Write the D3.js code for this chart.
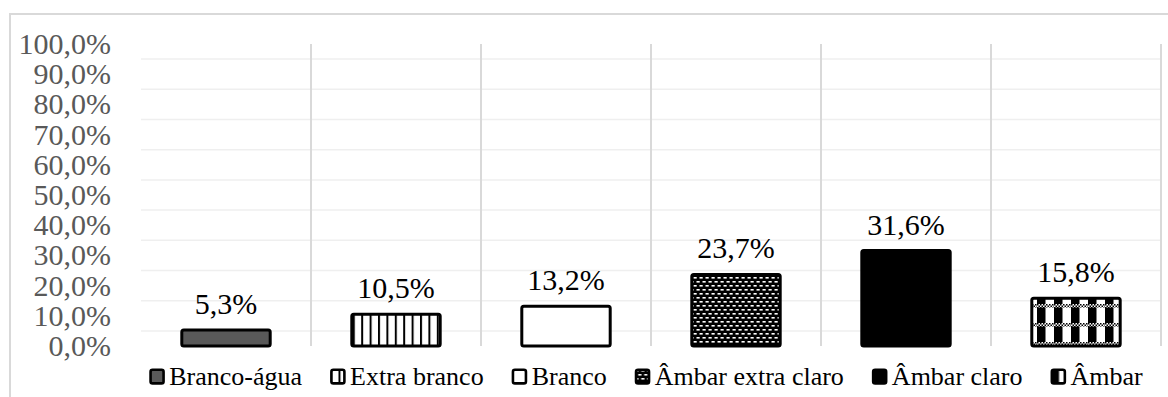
<!DOCTYPE html>
<html>
<head>
<meta charset="utf-8">
<script src="https://cdn.jsdelivr.net/npm/d3@7"></script>
<style>
  body { margin: 0; background: #fff; font-family: "Times New Roman"; }
  svg { font-family: "Times New Roman"; }
</style>
</head>
<body>
<div id="chart"></div>
<script>
const categories = ["Branco-água", "Extra branco", "Branco", "Âmbar extra claro", "Âmbar claro", "Âmbar"];
const values = [5.3, 10.5, 13.2, 23.7, 31.6, 15.8];
const yTicks = [0, 10, 20, 30, 40, 50, 60, 70, 80, 90, 100];
const gridLines = [5, 15, 25, 35, 45, 55, 65, 75, 85, 95];

const fills = ["#595959", "url(#p-vert)", "#ffffff", "url(#p-brick)", "#000000", "url(#p-check)"];

const width = 1168, height = 397;
const plot = { left: 141, right: 1161, top: 44, bottom: 346 };

const fmt = v => d3.format(".1f")(v).replace(".", ",") + "%";

const svg = d3.select("#chart")
    .append("svg")
    .attr("width", width)
    .attr("height", height)
    .attr("font-family", "Times New Roman");

// 填充图案
const defs = svg.append("defs");

const pv = defs.append("pattern").attr("id", "p-vert")
    .attr("patternUnits", "userSpaceOnUse")
    .attr("width", 8.4).attr("height", 10);
pv.append("rect").attr("width", 8.4).attr("height", 10).attr("fill", "#fff");
pv.append("rect").attr("width", 2).attr("height", 10).attr("fill", "#000");

const pb = defs.append("pattern").attr("id", "p-brick")
    .attr("patternUnits", "userSpaceOnUse")
    .attr("width", 6).attr("height", 8);
pb.append("rect").attr("width", 6).attr("height", 8).attr("fill", "#000");
[[0.5, 1], [3.5, 5], [-2.5, 5]].forEach(([x, y]) => {
    pb.append("rect").attr("x", x).attr("y", y)
        .attr("width", 3.2).attr("height", 1.6).attr("fill", "#fff");
});

const pd = defs.append("pattern").attr("id", "p-dots")
    .attr("patternUnits", "userSpaceOnUse")
    .attr("width", 3).attr("height", 3);
pd.append("rect").attr("width", 3).attr("height", 3).attr("fill", "#fff");
pd.append("rect").attr("width", 1.5).attr("height", 1.5).attr("fill", "#000");
pd.append("rect").attr("x", 1.5).attr("y", 1.5).attr("width", 1.5).attr("height", 1.5).attr("fill", "#000");

const pc = defs.append("pattern").attr("id", "p-check")
    .attr("patternUnits", "userSpaceOnUse")
    .attr("width", 17).attr("height", 19);
pc.append("rect").attr("width", 17).attr("height", 19).attr("fill", "#fff");
pc.append("rect").attr("width", 8.5).attr("height", 19).attr("fill", "#000");
pc.append("rect").attr("y", 0).attr("width", 17).attr("height", 3.5).attr("fill", "url(#p-dots)");

// 外框
svg.append("rect")
    .attr("x", 10).attr("y", 14)
    .attr("width", width + 20).attr("height", height + 20)
    .attr("fill", "none")
    .attr("stroke", "#d9d9d9")
    .attr("stroke-width", 2);

const xScale = d3.scaleBand()
    .domain(categories)
    .range([plot.left, plot.right])
    .paddingInner(0.48)
    .paddingOuter(0.24);

const yScale = d3.scaleLinear()
    .domain([0, 100])
    .range([plot.bottom, plot.top]);

const step = xScale.step();

// 横向网格线
svg.append("g")
    .selectAll("line")
    .data(gridLines)
    .enter()
    .append("line")
    .attr("x1", plot.left).attr("x2", plot.right)
    .attr("y1", d => yScale(d)).attr("y2", d => yScale(d))
    .attr("stroke", "#efefef")
    .attr("stroke-width", 1.5);

// 纵向分隔线
svg.append("g")
    .selectAll("line")
    .data(categories)
    .enter()
    .append("line")
    .attr("x1", d => xScale(d) - step * xScale.paddingInner() / 2 + step)
    .attr("x2", d => xScale(d) - step * xScale.paddingInner() / 2 + step)
    .attr("y1", plot.top).attr("y2", plot.bottom)
    .attr("stroke", "#d9d9d9")
    .attr("stroke-width", 2);

// y轴标签
svg.selectAll("text.ytick")
    .data(yTicks)
    .enter()
    .append("text")
    .attr("class", "ytick")
    .attr("x", 111)
    .attr("y", d => yScale(d) + 10)
    .attr("text-anchor", "end")
    .attr("fill", "#595959")
    .style("font-family", d => "'Times New Roman'")
    .style("font-size", "30px")
    .text(d => fmt(d));

// 柱子
svg.append("g")
    .selectAll("rect")
    .data(values)
    .enter()
    .append("rect")
    .attr("x", (d, i) => xScale(categories[i]))
    .attr("y", d => yScale(d))
    .attr("width", xScale.bandwidth())
    .attr("height", d => yScale(0) - yScale(d))
    .attr("rx", 2)
    .attr("fill", (d, i) => fills[i])
    .attr("stroke", "#000")
    .attr("stroke-width", 3);

// 数值标签
svg.selectAll("text.val")
    .data(values)
    .enter()
    .append("text")
    .attr("class", "val")
    .attr("x", (d, i) => xScale(categories[i]) + xScale.bandwidth() / 2)
    .attr("y", d => yScale(d) - 16)
    .attr("text-anchor", "middle")
    .attr("fill", "#000")
    .style("font-family", d => "'Times New Roman'")
    .style("font-size", "30px")
    .text(d => fmt(d));

// 图例
const legend = svg.append("g");
const items = legend.selectAll("g")
    .data(categories)
    .enter()
    .append("g")
    .attr("transform", (d, i) => `translate(${145 + i * 170},385)`);

items.append("rect")
    .attr("x", 1.3).attr("y", -15.2)
    .attr("width", 13).attr("height", 13.6)
    .attr("rx", 2)
    .attr("fill", (d, i) => fills[i])
    .attr("stroke", "#000")
    .attr("stroke-width", 2.6);

items.append("text")
    .attr("x", 20)
    .attr("y", 0)
    .attr("fill", "#000")
    .style("font-family", d => "'Times New Roman'")
    .style("font-size", "26px")
    .text(d => d);

// 字体加载后再排列图例
function layoutLegend() {
    let offset = 0;
    const gap = 28;
    items.each(function() {
        const w = 20 + d3.select(this).select("text").node().getComputedTextLength();
        d3.select(this).attr("transform", `translate(${offset},385)`);
        offset += w + gap;
    });
    const total = offset - gap;
    legend.attr("transform", `translate(${(145 + 1147) / 2 - total / 2},0)`);
}
document.fonts.ready.then(layoutLegend).catch(layoutLegend);
</script>
</body>
</html>
